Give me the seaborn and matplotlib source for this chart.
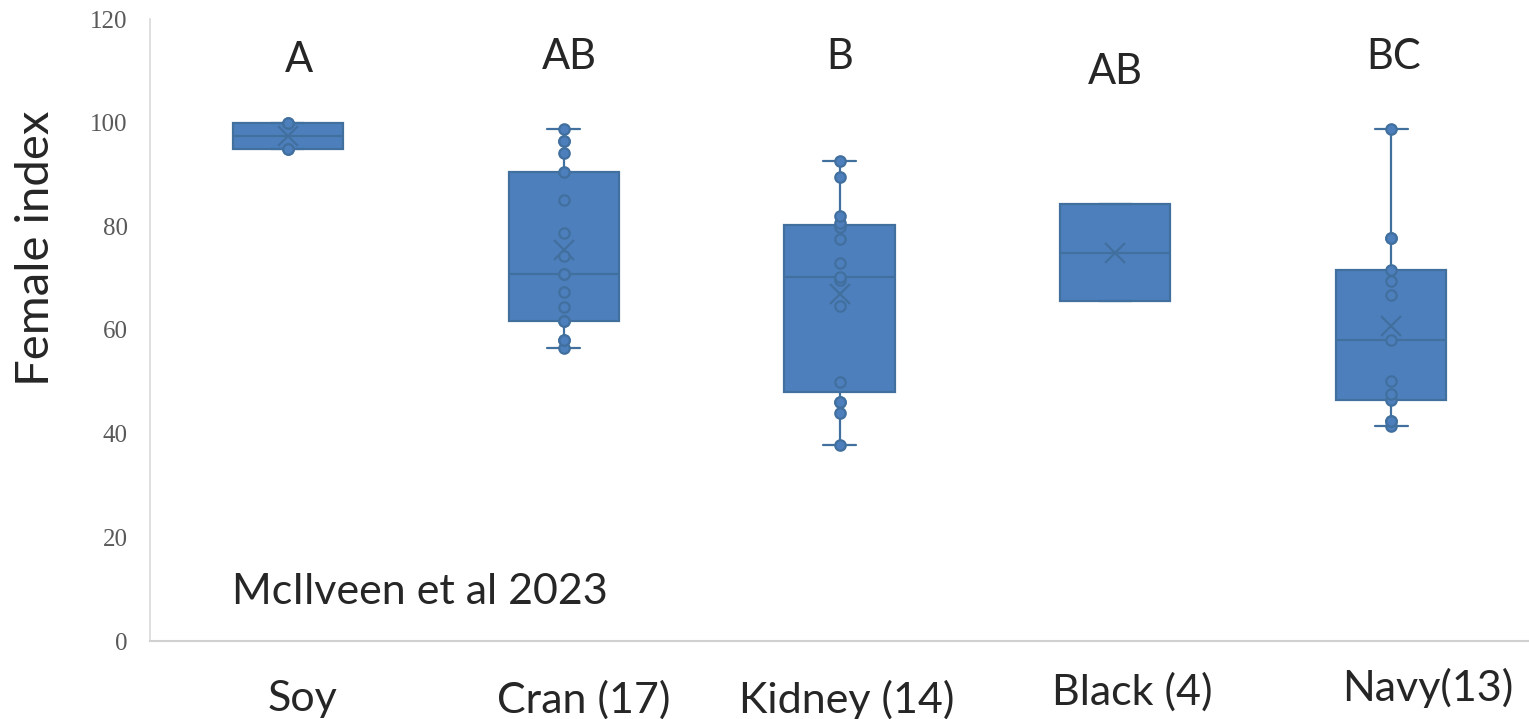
import numpy as np
import pandas as pd
import matplotlib
matplotlib.use("Agg")
import matplotlib.pyplot as plt
import matplotlib.transforms as mtransforms
import seaborn as sns

# categories and their sample values
categories = ['Soy', 'Cran (17)', 'Kidney (14)', 'Black (4)', 'Navy(13)']
soy = [95.0, 95.0, 100.0, 100.0]
cran = [56.5, 58.1, 58.1, 61.8, 61.8, 64.4, 67.4, 70.8, 70.8, 74.2,
        78.7, 85.1, 90.4, 94.1, 96.4, 96.4, 98.8]
kidney = [37.8, 44.0, 46.2, 46.2, 49.9, 64.7, 69.6, 70.3, 72.9, 77.5,
          79.9, 80.7, 82.0, 89.6, 92.7]
black = [65.5, 65.5, 84.4, 84.4]
navy = [41.4, 42.5, 42.5, 46.4, 47.7, 50.2, 58.0, 66.7, 69.4, 71.5,
        77.7, 77.7, 98.8]
show_points = [True, True, True, False, True]

letters = ['A', 'AB', 'B', 'AB', 'BC']
letter_y = [112.0, 112.7, 112.7, 109.7, 112.7]
letter_dx = [0.04, 0.02, 0.0, 0.0, 0.01]

yticks = [0, 20, 40, 60, 80, 100, 120]

groups = [soy, cran, kidney, black, navy]
df = pd.DataFrame({
    'bean': np.repeat(categories, [len(g) for g in groups]),
    'value': np.concatenate(groups),
    'show': np.repeat(show_points, [len(g) for g in groups]),
})

box_blue = '#4d7fbd'
edge_blue = '#41709f'

sns.set_style('white')
plt.rcParams['font.family'] = ['Lato', 'DejaVu Sans']

fig = plt.figure(figsize=(15.29, 7.19), dpi=100)
ax = fig.add_axes([150 / 1529, 78 / 719, 1379 / 1529, 622 / 719])

sns.boxplot(data=df, x='bean', y='value', order=categories, ax=ax,
            whis=(0, 100), width=0.4, color=box_blue, saturation=1,
            linecolor=edge_blue, linewidth=1.6, showfliers=False,
            showmeans=True,
            meanprops=dict(marker='x', markeredgecolor=edge_blue,
                           markersize=15, markeredgewidth=1.6),
            capwidths=0.12)

sns.stripplot(data=df[df['show']], x='bean', y='value', order=categories,
              ax=ax, jitter=False, size=7.5, color=box_blue,
              edgecolor=edge_blue, linewidth=1.6, zorder=5)

ax.set_xlim(-0.5, 4.5)
ax.set_ylim(0, 120)
ax.set_yticks(yticks)
ax.set_yticklabels([str(t) for t in yticks], family='Liberation Serif',
                   fontsize=18, color='#595959')
ax.tick_params(axis='y', length=0, pad=16)
ax.tick_params(axis='x', length=0, pad=28, labelsize=31)

# nudge x labels to where they sit in the reference
offsets = [(15, 0), (20, 0), (7, 0), (17, 8), (37, 12)]
for lab, (dx, dy) in zip(ax.get_xticklabels(), offsets):
    lab.set_transform(lab.get_transform() + mtransforms.ScaledTranslation(
        dx / 100, dy / 100, fig.dpi_scale_trans))

ax.set_xlabel('')
ax.set_ylabel('Female index', fontsize=34, va='center')
ax.yaxis.set_label_coords(-0.083, 0.632)

for i, (txt, yy) in enumerate(zip(letters, letter_y)):
    ax.text(i + letter_dx[i], yy, txt, ha='center', va='center', fontsize=30)

ax.text(-0.203, 9.5, 'McIlveen et al 2023', ha='left', va='center',
        fontsize=31)

sns.despine(ax=ax)
ax.spines['left'].set_color('#d9d9d9')
ax.spines['bottom'].set_color('#d0d0d0')
ax.spines['left'].set_linewidth(1.2)
ax.spines['bottom'].set_linewidth(1.5)

fig.savefig('out.png', dpi=100)
